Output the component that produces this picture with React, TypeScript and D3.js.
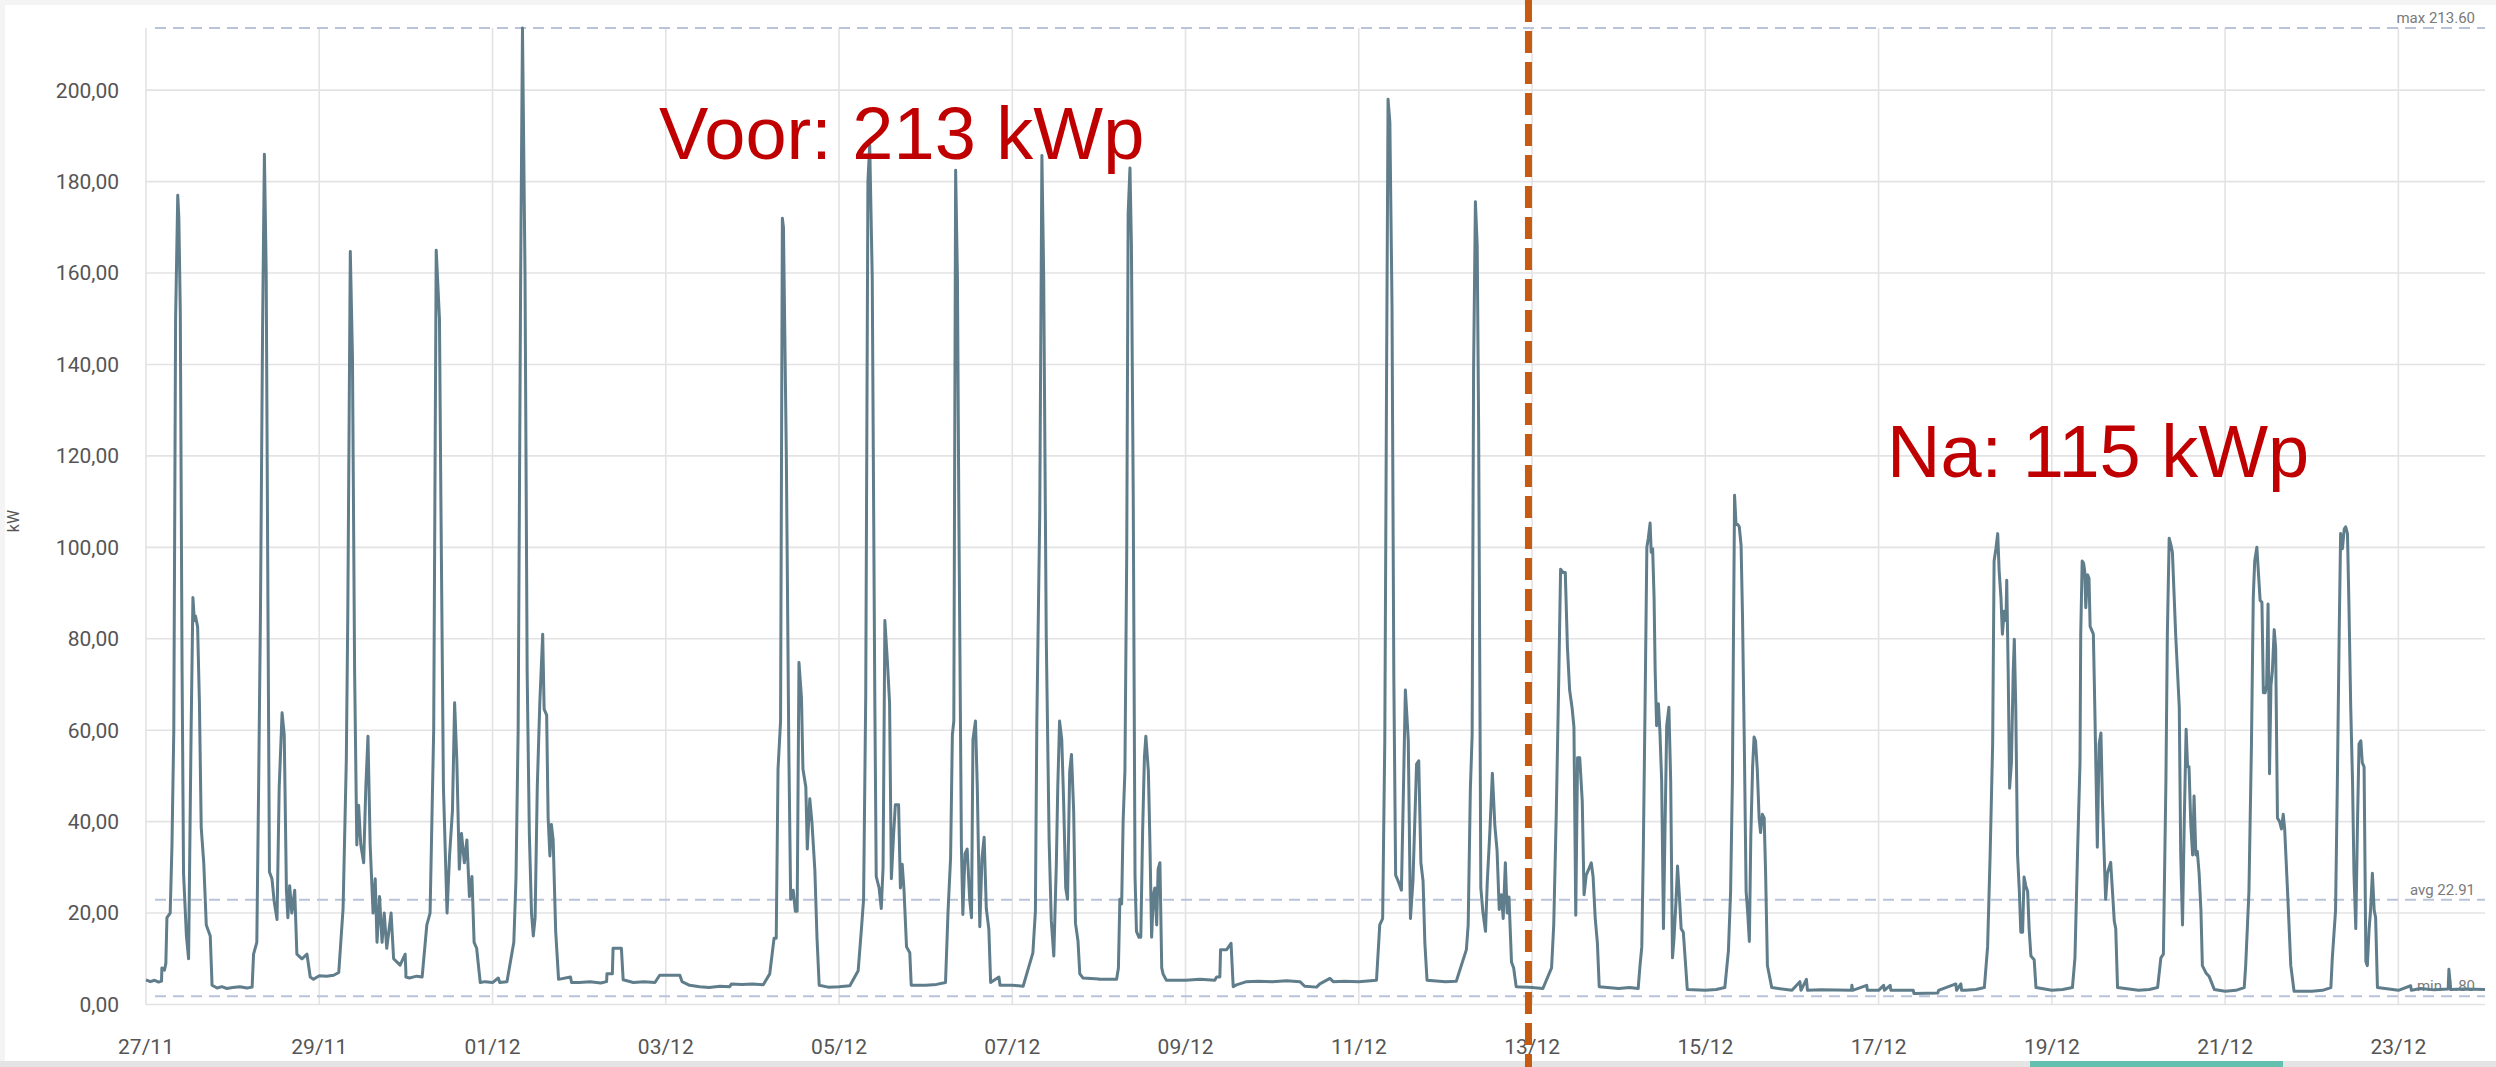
import React from "react";
import * as d3 from "d3";

// ---- time frame ----
const START = Date.UTC(2022, 10, 27); // 27/11
const END = Date.UTC(2022, 11, 24); // 24/12
const SPLIT = Date.UTC(2022, 11, 12, 23); // install change marker

// ---- axis ticks ----
const yTickValues = [0, 20, 40, 60, 80, 100, 120, 140, 160, 180, 200];
const Y_MAX = 213.6;

// ---- reference statistics ----
const statLabels = ["max", "avg", "min"];
const statValues = [213.6, 22.91, 1.8];

// ---- annotations ----
const noteTexts = ["Voor: 213 kWp", "Na: 115 kWp"];

// ---- series: [hour of day, kW] per day ----
const d2711 = [[0,5.4],[1.2,5.0],[2.4,5.3],[3.5,4.9],[4.3,5.1],[4.4,8],[5.1,7.5],[5.5,9],[5.8,19],[6.7,20],[7.2,35],[7.7,60],[8.2,150],[8.8,177],[9.1,172],[9.5,151.5],[10,72.5],[10.4,28.7],[11.2,15],[11.8,10],[12.5,60],[13,89],[13.4,84],[13.7,85],[14.3,82.6],[14.8,66],[15.3,38.7],[16,31],[16.7,17.4],[17.8,15],[18.3,4.2],[19.7,3.6],[21,3.9],[22.4,3.5],[24,3.7]];
const d2811 = [[0,3.7],[2,3.9],[4,3.6],[5.4,3.8],[5.8,11],[6.7,13.6],[7.2,47.5],[7.7,85],[8.3,148],[8.8,186],[9.3,160],[9.8,85],[10.2,29],[10.9,27.5],[11.5,22.6],[12.3,18.6],[12.9,47.5],[13.7,63.8],[14.3,59],[14.9,25],[15.3,19],[15.8,26],[16.4,20],[17.2,25],[17.8,11],[19.2,10],[20.6,11],[21.5,6],[22.4,5.5],[24,6.3]];
const d2911 = [[0,6.3],[2,6.2],[4,6.4],[5.4,7],[6.6,21],[7.5,53.7],[7.9,85],[8.6,164.7],[9.2,141.5],[9.8,72.5],[10.4,34.9],[10.9,43.6],[11.5,35],[12.3,31],[12.9,47.5],[13.5,58.7],[14.1,35],[14.9,20],[15.5,27.5],[16,13.6],[16.7,23.6],[17.4,13.6],[18,20],[18.7,12.3],[19.9,20],[20.6,10],[22.4,8.6],[23.8,11],[24,7]];
const d3011 = [[0,6],[1,5.8],[3,6.2],[4.5,6],[5.8,17.4],[6.7,20],[7.7,60],[8.4,165],[9.3,150],[9.7,110],[10.4,47.5],[11.4,20],[12.1,32.6],[12.9,42.4],[13.5,66],[14.1,53.7],[14.8,29.6],[15.4,37.4],[16.2,31],[16.9,36],[17.6,23.6],[18.3,28],[18.9,13.6],[19.6,12.3],[20.6,4.8],[22,5],[24,4.8]];
const d0112 = [[0,4.8],[1.6,5.8],[2,4.8],[4,5],[5.9,13.6],[6.5,27.5],[7.1,60],[7.8,160],[8.3,213.6],[9,160],[9.6,72.5],[10.2,37.4],[10.8,20],[11.3,15],[11.8,19],[12.4,47.5],[13.1,66],[13.9,81],[14.3,64.6],[15,63.3],[15.4,41],[15.9,32.5],[16.3,39.4],[16.8,36],[17.5,16],[18.3,5.5],[21.6,6],[21.9,4.8],[24,4.8]];
const d0212 = [[0,4.8],[3,5],[6,4.7],[7.6,5],[7.7,6.7],[9.2,6.7],[9.4,12.3],[11.7,12.3],[12.2,5.4],[15,4.8],[18,5],[21,4.8],[22.3,6.4],[24,6.4]];
const d0312 = [[0,6.4],[3.9,6.4],[4.5,5],[6.6,4.2],[9.4,3.9],[12,3.7],[15,4],[17.7,3.9],[18.2,4.5],[21,4.4],[24,4.5]];
const d0412 = [[0,4.5],[3,4.3],[4.8,6.7],[6,14.5],[6.6,14.5],[7.1,51.5],[7.8,62],[8.3,172],[8.6,170],[9.4,120],[10.1,55],[10.6,23],[11.3,25],[11.9,20.4],[12.4,20.4],[12.9,74.8],[13.6,67],[14,51.5],[14.8,47.6],[15.2,34],[15.9,45],[16.5,39.8],[17.3,29.4],[17.9,14.5],[18.5,4.2],[21,3.8],[24,3.9]];
const d0512 = [[0,3.9],[3,4.1],[5.3,7.4],[6.2,16.5],[6.8,23],[7.4,68],[8,180],[8.5,188],[9.2,159],[9.9,68],[10.3,28],[11.1,25.5],[11.7,21],[12.2,30],[12.7,84],[13.4,75],[14,66],[14.5,27.5],[15.1,37],[15.6,43.7],[16.5,43.7],[17,25.5],[17.5,30.7],[18,25],[18.7,12.6],[19.6,11.3],[20,4.2],[24,4.2]];
const d0612 = [[0,4.2],[3,4.4],[5.5,4.8],[6.2,20.4],[6.9,32],[7.4,59],[7.8,62],[8.3,182.5],[8.8,159],[9.2,107],[9.9,34.6],[10.3,19.7],[10.9,33],[11.5,34],[12.2,23],[12.7,19],[13.1,58],[13.8,62],[14.3,47.6],[15,17],[15.6,32],[16.2,36.6],[16.8,21],[17.5,16.5],[18,4.8],[20.3,6],[20.6,4.2],[24,4.2]];
const d0712 = [[0,4.2],[3,4.0],[5.7,11.3],[6.4,20.4],[6.8,62],[7.6,107],[8.2,185.7],[8.7,159],[9.4,81],[10.2,36],[10.8,18.4],[11.5,10.6],[12.2,30.7],[12.6,47.6],[13.1,62],[13.7,58],[14.2,45],[14.8,25.5],[15.3,23],[15.9,51],[16.4,54.7],[17,42.4],[17.5,17.8],[18.2,13.9],[18.7,6.7],[19.6,5.8],[24,5.6]];
const d0812 = [[0,5.5],[4.9,5.5],[5.4,8],[5.8,23],[6.3,22],[6.7,40],[7.2,51],[7.7,98.6],[8.1,173],[8.6,183],[9,166],[9.5,112],[10,28],[10.4,16],[11.1,14.7],[11.6,14.7],[12.1,37.7],[12.6,54],[13,58.7],[13.7,51],[14.1,36.4],[14.6,14.7],[15.1,24],[15.5,25.5],[16,17.4],[16.4,29.6],[16.9,31],[17.4,8],[17.8,6.6],[18.7,5.3],[24,5.3]];
const d0912 = [[0,5.3],[4,5.5],[8.1,5.3],[8.6,6],[9.5,6],[9.7,12],[11.4,12],[12.6,13.4],[13.2,3.9],[14.1,4.3],[16.9,5],[20,5.1],[24,5]];
const d1012 = [[0,5],[4,5.2],[7.7,5],[9,4],[12.3,3.8],[13.2,4.5],[16,5.7],[16.9,5],[20,5.1],[24,5]];
const d1112 = [[0,5],[4.9,5.3],[5.8,17.4],[6.6,18.8],[7.2,58],[7.7,139],[8.1,198],[8.6,193],[9.2,152.7],[9.7,71.5],[10.2,28.3],[10.9,27],[11.8,25],[12.3,44.5],[12.9,68.8],[13.7,58],[14.3,18.8],[15,27],[16,52.6],[16.6,53.3],[17.2,31],[17.8,27],[18.3,13.4],[18.9,5.3],[24,5]];
const d1212 = [[0,5],[3,5.1],[5.8,12],[6.3,17.4],[6.9,47],[7.4,59],[7.8,139],[8.3,175.6],[8.8,166],[9.2,125.6],[9.8,25.5],[10.4,20],[11.1,16],[11.6,27],[12.3,37.7],[13,50.6],[13.7,39],[14.3,33.7],[14.9,20.8],[15.5,24],[16,18.8],[16.6,31],[17.1,20],[17.6,23.5],[18.3,9.3],[18.9,8],[19.6,3.9],[24,3.7]];
const d1312 = [[0,3.7],[3,3.5],[5.4,8],[6,17.4],[6.7,41.8],[7.4,71.5],[7.9,95.2],[8.6,94.5],[9.2,94.5],[9.8,78],[10.4,68.8],[11.1,64.8],[11.6,60.7],[12.1,19.5],[12.6,54],[13.2,54],[13.9,44.5],[14.4,24],[15,28.3],[15.7,29.6],[16.4,31],[16.9,28],[17.5,18.8],[18.1,13.4],[18.6,3.9],[24,3.5]];
const d1412 = [[0,3.5],[3,3.7],[5.4,3.5],[5.9,8.5],[6.4,12.6],[6.8,32.7],[7.3,65],[7.8,100],[8.2,102],[8.7,105.3],[9,98.9],[9.4,99.7],[9.8,89],[10.1,73],[10.5,61],[11,65.8],[11.4,60],[11.9,49],[12.4,16.6],[12.8,36.8],[13.3,61],[13.9,65],[14.4,49],[14.9,10.2],[15.3,14.2],[15.9,23],[16.3,30.3],[16.8,23.9],[17.3,16.6],[17.9,15.8],[18.4,10.2],[19,3.3],[24,3.1]];
const d1512 = [[0,3.1],[3,3.3],[5.4,3.7],[6.4,11.8],[7,24.7],[7.5,49],[7.8,81],[8.1,111.4],[8.5,105],[9,105],[9.4,104.5],[9.9,100.5],[10.3,85],[10.8,57],[11.3,24.7],[11.7,20.6],[12.2,13.8],[12.6,36.8],[13.1,52],[13.5,58.5],[13.9,57.7],[14.4,51.3],[14.9,40.8],[15.3,37.6],[15.8,41.6],[16.3,40.8],[16.7,28.7],[17.2,8.5],[17.6,6.9],[18.4,3.7],[24,3.1]];
const d1612 = [[0,3.1],[2.2,5],[2.5,3.1],[4,5.5],[4.3,3.1],[8,3.2],[16.5,3.1],[16.6,4.2],[16.8,3.1],[20.7,4.2],[20.9,3.1],[24,3.1]];
const d1712 = [[0,3.1],[1.4,4.2],[1.6,3.1],[3.2,4.2],[3.4,3.1],[9.6,3.1],[9.8,2.4],[16.4,2.5],[16.6,3.1],[21.4,4.5],[21.6,3.1],[22.8,4.5],[23,3.1],[24,3.1]];
const d1812 = [[0,3.1],[3,3.3],[5.3,3.7],[6.2,12.6],[6.9,32.7],[7.6,57],[8,97],[8.5,99.7],[9,103],[9.4,94.8],[9.9,89],[10.3,81],[10.8,86],[11.3,84],[11.5,92.8],[11.9,73],[12.3,47.3],[12.8,52.9],[13.3,73],[13.6,79.9],[14,65],[14.5,32.7],[15,24.7],[15.4,15.8],[15.9,15.8],[16.3,27.9],[16.8,25.9],[17.3,24.7],[17.7,16.6],[18.2,10.6],[19.1,9.8],[19.6,3.7],[24,3.1]];
const d1912 = [[0,3.1],[3,3.3],[5.7,3.7],[6.4,10.2],[7.1,32.7],[7.8,52.9],[8,81],[8.4,97],[8.8,96.5],[9.1,94.8],[9.4,86.8],[9.9,94],[10.3,93.2],[10.6,82.7],[11.5,81],[11.9,65],[12.6,34.4],[13.1,57],[13.6,59.4],[14,44.8],[14.5,32.7],[14.9,23],[15.4,28.7],[16.3,31.1],[16.8,24.7],[17.3,18.2],[17.7,16.6],[18.2,3.7],[24,3.1]];
const d2012 = [[0,3.1],[3,3.3],[5.3,3.7],[6.2,10.2],[6.9,11],[7.6,48.9],[8,81],[8.5,102],[9,100.5],[9.4,98.9],[9.9,89],[10.3,81],[10.8,73],[11.3,65],[11.7,32.7],[12.2,17.4],[12.7,40.8],[13.2,60.2],[13.6,52],[14,52],[14.5,39.2],[15,32.7],[15.4,45.6],[15.9,32.7],[16.3,33.5],[16.8,28.7],[17.3,20.6],[17.7,8.5],[18.7,6.9],[19.6,6.1],[21,3.3],[24,2.9]];
const d2112 = [[0,2.9],[3,3.1],[5.3,3.7],[5.7,8.5],[6.6,24.7],[7.3,57],[7.8,89],[8.2,97],[8.8,100],[9.2,94.8],[9.7,88.4],[10.2,88],[10.6,68.2],[11.1,68.2],[11.5,69.8],[11.9,87.6],[12.3,50.5],[12.7,69.8],[13.1,73],[13.6,82],[14,78],[14.5,40.8],[15.1,40],[15.6,38.4],[16.1,41.6],[16.5,38.4],[17.3,24.7],[18.2,8.5],[19.1,2.9],[24,2.9]];
const d2212 = [[0,2.9],[3,3.1],[5.3,3.7],[5.7,10.2],[6.6,20.6],[7.1,48.9],[7.6,81],[8,103],[8.5,99.7],[9,104],[9.4,104.5],[9.9,103],[10.3,87.6],[10.8,65],[11.3,48.9],[11.7,28.7],[12.2,16.6],[12.7,40.8],[13.1,57],[13.6,57.7],[14,52.9],[14.5,52],[15,9.4],[15.4,8.5],[15.9,16.6],[16.3,20.6],[16.8,28.7],[17.3,20.6],[17.7,19],[18.2,3.7],[24,3.1]];
const d2312 = [[0,3.1],[3.4,4.1],[3.6,3.1],[6.2,3.5],[9.9,3.2],[13.8,3.4],[14,7.7],[14.5,3.3],[18,3.4],[24,3.3]];

const DAYS = [d2711, d2811, d2911, d3011, d0112, d0212, d0312, d0412, d0512, d0612, d0712, d0812, d0912, d1012, d1112, d1212, d1312, d1412, d1512, d1612, d1712, d1812, d1912, d2012, d2112, d2212, d2312];

const HOUR = 3600 * 1000;

export default function App() {
  const W = 2496;
  const H = 1067;
  const x = d3.scaleUtc().domain([START, END]).range([146, 2485]);
  const y = d3.scaleLinear().domain([0, Y_MAX]).range([1004.5, 28]);

  const points = DAYS.flatMap((day, i) =>
    day.map(([h, v]) => ({ t: START + (i * 24 + h) * HOUR, v }))
  );
  const line = d3
    .line<{ t: number; v: number }>()
    .x((d) => x(d.t))
    .y((d) => y(d.v));

  const xTicks = d3.utcDay.range(new Date(START), new Date(END), 2);
  const fmtX = d3.utcFormat("%d/%m");
  const fmtY = (v: number) => v.toFixed(2).replace(".", ",");
  const [x0, x1] = x.range();
  const [yb, yt] = y.range();
  const tickFont = "Roboto, 'Noto Sans', sans-serif";

  return (
    <div style={{ position: "absolute", left: 0, top: 0 }}>
      <svg width={W} height={H} style={{ display: "block" }}>
        <rect x={0} y={0} width={W} height={H} fill="#f4f4f4" />
        <rect x={5} y={5} width={W - 5} height={1056} fill="#ffffff" />
        <rect x={0} y={1061} width={W} height={6} fill="#e4e4e4" />
        <rect x={2030} y={1061} width={253} height={6} fill="#63bfae" />

        {/* horizontal grid */}
        {yTickValues.map((v) => (
          <line key={"hg" + v} x1={x0} x2={x1} y1={y(v)} y2={y(v)} stroke="#e3e3e3" strokeWidth={1.6} />
        ))}
        {/* vertical grid */}
        {xTicks.map((d) => (
          <line key={"vg" + d.getTime()} x1={x(d)} x2={x(d)} y1={yt} y2={yb} stroke="#e3e3e3" strokeWidth={1.6} />
        ))}

        {/* y tick labels */}
        {yTickValues.map((v) => (
          <text key={"yl" + v} x={119} y={y(v)} dy="0.35em" textAnchor="end" fontFamily={tickFont} fontSize={21} fill="#555">
            {fmtY(v)}
          </text>
        ))}
        {/* x tick labels */}
        {xTicks.map((d) => (
          <text key={"xl" + d.getTime()} x={x(d)} y={1054} textAnchor="middle" fontFamily={tickFont} fontSize={21} fill="#555">
            {fmtX(d)}
          </text>
        ))}
        <text transform="translate(19,521) rotate(-90)" textAnchor="middle" fontFamily={tickFont} fontSize={16} fill="#555">
          kW
        </text>

        {/* stat reference lines */}
        {statValues.map((v, i) => (
          <g key={"st" + i}>
            <line x1={x0 + 9} x2={x1} y1={y(v)} y2={y(v)} stroke="#b9c3d9" strokeWidth={1.8} strokeDasharray="11 7" />
            <text x={2475} y={y(v) - 5} textAnchor="end" fontFamily={tickFont} fontSize={15} fill="#7a7a7a">
              {statLabels[i] + " " + v.toFixed(2)}
            </text>
          </g>
        ))}

        {/* series */}
        <path d={line(points) || ""} fill="none" stroke="#607d8b" strokeWidth={3} strokeLinejoin="round" />

        {/* split marker */}
        <line x1={x(SPLIT)} x2={x(SPLIT)} y1={0} y2={H} stroke="#c55a11" strokeWidth={7} strokeDasharray="22 9" />

        {/* annotations */}
        <text x={659} y={159} fontFamily="'Liberation Sans', Arial, sans-serif" fontSize={74} fill="#c00000">
          {noteTexts[0]}
        </text>
        <text x={1887} y={477} fontFamily="'Liberation Sans', Arial, sans-serif" fontSize={74} fill="#c00000">
          {noteTexts[1]}
        </text>
      </svg>
    </div>
  );
}
